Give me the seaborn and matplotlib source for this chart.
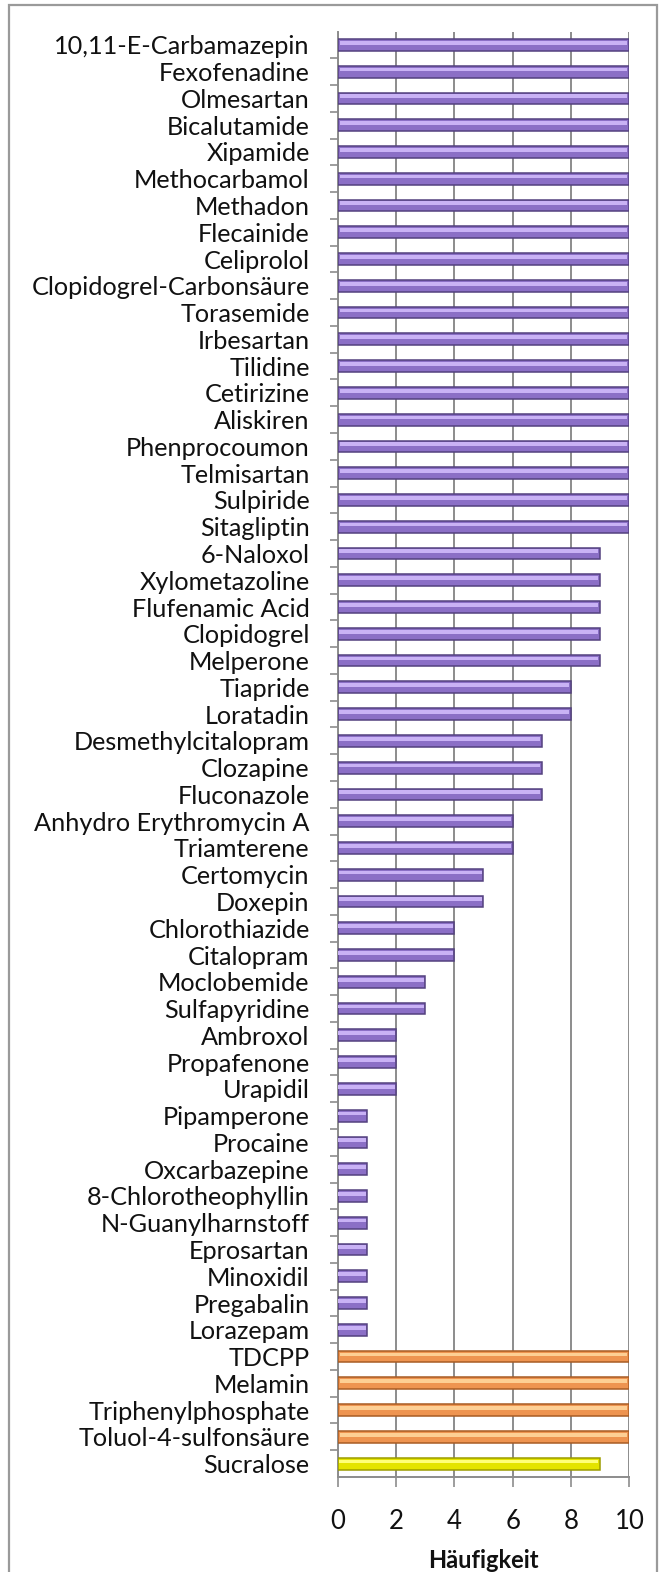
import numpy as np
import pandas as pd
import matplotlib.pyplot as plt
import matplotlib.patches as mpatches
import seaborn as sns

# Data (top to bottom)
substances = [
    "10,11-E-Carbamazepin", "Fexofenadine", "Olmesartan", "Bicalutamide", "Xipamide",
    "Methocarbamol", "Methadon", "Flecainide", "Celiprolol", "Clopidogrel-Carbonsäure",
    "Torasemide", "Irbesartan", "Tilidine", "Cetirizine", "Aliskiren",
    "Phenprocoumon", "Telmisartan", "Sulpiride", "Sitagliptin", "6-Naloxol",
    "Xylometazoline", "Flufenamic Acid", "Clopidogrel", "Melperone", "Tiapride",
    "Loratadin", "Desmethylcitalopram", "Clozapine", "Fluconazole", "Anhydro Erythromycin A",
    "Triamterene", "Certomycin", "Doxepin", "Chlorothiazide", "Citalopram",
    "Moclobemide", "Sulfapyridine", "Ambroxol", "Propafenone", "Urapidil",
    "Pipamperone", "Procaine", "Oxcarbazepine", "8-Chlorotheophyllin", "N-Guanylharnstoff",
    "Eprosartan", "Minoxidil", "Pregabalin", "Lorazepam",
    "TDCPP", "Melamin", "Triphenylphosphate", "Toluol-4-sulfonsäure", "Sucralose",
]
counts = [
    10, 10, 10, 10, 10, 10, 10, 10, 10, 10,
    10, 10, 10, 10, 10, 10, 10, 10, 10, 9,
    9, 9, 9, 9, 8, 8, 7, 7, 7, 6,
    6, 5, 5, 4, 4, 3, 3, 2, 2, 2,
    1, 1, 1, 1, 1, 1, 1, 1, 1,
    10, 10, 10, 10, 9,
]
groups = ["pharma"] * 49 + ["industrie"] * 4 + ["suess"]

df = pd.DataFrame({"Substanz": substances, "Häufigkeit": counts, "Gruppe": groups})

base_colors = {"pharma": "#8b6fc6", "industrie": "#ee9450", "suess": "#e4e400"}
light_colors = {"pharma": "#c9b2f5", "industrie": "#fdcf94", "suess": "#ffff7a"}
edge_colors = {"pharma": "#54417f", "industrie": "#a85c24", "suess": "#9c9c00"}

sns.set_style("white")
plt.rcParams['font.family'] = ['Lato', 'DejaVu Sans']

fig = plt.figure(figsize=(6.64, 15.72), dpi=100)
ax = fig.add_axes([337.5 / 664, 1 - 1477 / 1572, (629.5 - 337.5) / 664, (1477 - 31.5) / 1572])

# main bars
sns.barplot(data=df, y="Substanz", x="Häufigkeit", hue="Gruppe", palette=base_colors,
            dodge=False, width=0.44, orient="h", legend=False, saturation=1,
            ax=ax, zorder=3)
n = len(df)
main_patches = [p for p in ax.patches if p.get_width() > 0]
for p in main_patches:
    idx = int(round(p.get_y() + p.get_height() / 2))
    g = df["Gruppe"].iloc[idx]
    p.set_edgecolor(edge_colors[g])
    p.set_linewidth(1.1)

# highlight stripe on the upper part of each bar
for i, (v, g) in enumerate(zip(df["Häufigkeit"], df["Gruppe"])):
    ax.barh(i - 0.08, v * 0.985, height=0.14, left=v * 0.0075,
            color=light_colors[g], linewidth=0, zorder=4)

ax.set_xlim(0, 10)
ax.set_ylim(n - 0.5, -0.5)
ax.set_xticks([0, 2, 4, 6, 8, 10])
ax.grid(axis="x", color="#8c8c8c", linewidth=1.4, zorder=0)
ax.grid(axis="y", visible=False)

# tick marks between categories, Excel-like
ax.set_yticks(np.arange(n - 1) + 0.5, minor=True)
ax.tick_params(axis="y", which="major", length=0, pad=20, labelsize=18.2, labelcolor="#111111")
ax.tick_params(axis="y", which="minor", length=6, width=1.2, color="#8c8c8c", left=True)
ax.tick_params(axis="x", which="major", length=7, width=1.2, color="#8c8c8c", bottom=True,
               pad=16, labelsize=18.5, labelcolor="#111111")

for side in ["top", "right"]:
    ax.spines[side].set_visible(False)
for side in ["left", "bottom"]:
    ax.spines[side].set_color("#8c8c8c")
    ax.spines[side].set_linewidth(1.4)

ax.set_ylabel("")
ax.set_xlabel("Häufigkeit", fontsize=17, fontweight="bold", labelpad=11, color="#111111")

# outer frame of the chart area
frame = mpatches.Rectangle((9 / 664, -0.01), (657 - 9) / 664, 1 - 5 / 1572 + 0.01,
                           transform=fig.transFigure, fill=False,
                           edgecolor="#9a9a9a", linewidth=1.6)
fig.patches.append(frame)

fig.savefig("out.png", dpi=100)
